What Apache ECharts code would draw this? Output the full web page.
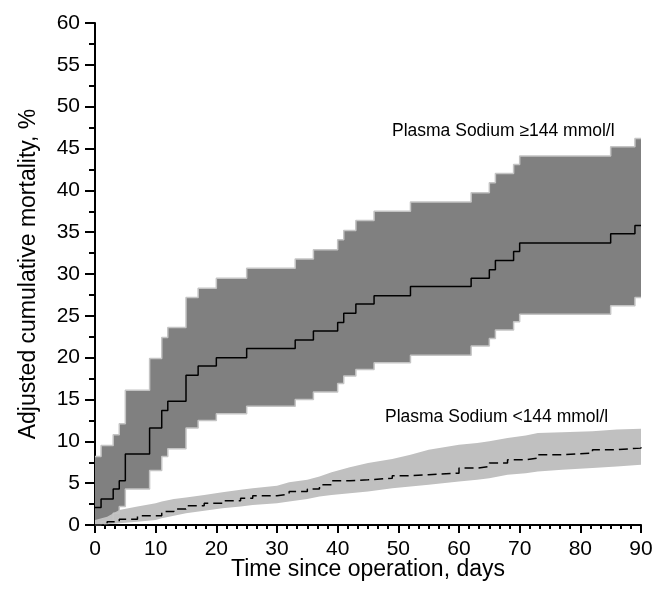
<!DOCTYPE html>
<html>
<head>
<meta charset="utf-8">
<script src="https://cdn.jsdelivr.net/npm/echarts@6/dist/echarts.min.js"></script>
<style>
  html, body { margin: 0; padding: 0; background: #fff; }
  #main { width: 656px; height: 602px; }
</style>
</head>
<body>
<div id="main"></div>
<script>
// high sodium group (>=144 mmol/l), step times in days
var highDays  = [0, 1, 3, 4, 5, 9, 11, 12, 15, 17, 20, 25, 33, 36, 40, 41, 43, 46, 52, 62, 65, 66, 69, 70, 85, 89, 90];
var highMean  = [2.1, 3.1, 4.3, 5.3, 8.5, 11.6, 13.7, 14.8, 17.9, 19.0, 20.0, 21.1, 22.1, 23.2, 24.2, 25.3, 26.4, 27.4, 28.5, 29.5, 30.5, 31.6, 32.7, 33.7, 34.8, 35.8, 35.8];
var highUpper = [8.2, 9.5, 10.8, 12.1, 16.1, 19.9, 22.4, 23.6, 27.2, 28.3, 29.5, 30.7, 31.8, 32.9, 34.1, 35.2, 36.4, 37.5, 38.6, 39.7, 40.9, 42.0, 43.1, 44.1, 45.2, 46.2, 46.2];
var highLower = [0, 0.4, 1.4, 2.2, 4.3, 6.5, 8.2, 9.1, 11.6, 12.5, 13.3, 14.2, 15.0, 15.9, 16.9, 17.8, 18.6, 19.4, 20.3, 21.4, 22.3, 23.3, 24.3, 25.2, 26.2, 27.2, 27.2];

// low sodium group (<144 mmol/l)
var lowDays  = [0, 2, 4, 7, 10, 11, 13, 15, 18, 21, 24, 26, 30, 32, 35, 37, 39, 42, 45, 49, 52, 55, 60, 63, 65, 68, 71, 73, 77, 82, 86, 90];
var lowMean  = [0, 0.4, 0.7, 1.1, 1.1, 1.6, 1.9, 2.3, 2.6, 2.9, 3.2, 3.5, 3.7, 4.0, 4.3, 4.8, 5.3, 5.4, 5.6, 5.9, 6.0, 6.2, 6.8, 7.0, 7.4, 7.8, 8.0, 8.4, 8.6, 9.0, 9.2, 9.4];
var lowUpper = [0.6, 1.0, 1.8, 2.2, 2.6, 2.8, 3.1, 3.3, 3.6, 3.9, 4.2, 4.4, 4.7, 5.1, 5.4, 5.8, 6.3, 6.9, 7.4, 7.9, 8.4, 9.0, 9.6, 9.8, 10.0, 10.4, 10.7, 11.0, 11.1, 11.2, 11.4, 11.5];
var lowLower = [0, 0.1, 0.2, 0.4, 0.6, 0.8, 1.1, 1.4, 1.7, 2.0, 2.2, 2.4, 2.6, 2.8, 3.1, 3.4, 3.6, 3.8, 4.0, 4.4, 4.6, 4.8, 5.2, 5.4, 5.6, 6.0, 6.2, 6.4, 6.6, 6.8, 7.0, 7.2];

var xTicks = [0, 10, 20, 30, 40, 50, 60, 70, 80, 90];
var yTicks = [0, 5, 10, 15, 20, 25, 30, 35, 40, 45, 50, 55, 60];

function pairs(xs, ys) {
    return xs.map(function (x, i) { return [x, ys[i]]; });
}

// points of an edge, optionally as a step (value held until next time)
function edge(xs, ys, step) {
    var out = [];
    for (var i = 0; i < xs.length; i++) {
        out.push([xs[i], ys[i]]);
        if (step && i < xs.length - 1) out.push([xs[i + 1], ys[i]]);
    }
    return out;
}

// confidence band drawn as one polygon through the axes' scales
function band(xs, hi, lo, step, fill) {
    return {
        type: 'custom',
        coordinateSystem: 'cartesian2d',
        silent: true,
        data: [[xs[0], hi[0]]],
        renderItem: function (params, api) {
            var top = edge(xs, hi, step);
            var bot = edge(xs, lo, step).reverse();
            var pts = top.concat(bot).map(function (p) { return api.coord(p); });
            return {
                type: 'polygon',
                shape: { points: pts },
                style: { fill: fill, stroke: null }
            };
        }
    };
}

var font = 'Liberation Sans';
var dom = document.getElementById('main');
var chart = echarts.init(dom);

var option = {
    animation: false,
    grid: { left: 95, right: 15, top: 23, bottom: 77 },
    xAxis: {
        type: 'value',
        min: xTicks[0],
        max: xTicks[xTicks.length - 1],
        interval: 10,
        name: 'Time since operation, days',
        nameLocation: 'middle',
        nameGap: 33,
        nameMoveOverlap: false,
        nameTextStyle: { fontFamily: font, fontSize: 23, color: '#000' },
        axisLine: { lineStyle: { color: '#000', width: 2 } },
        axisTick: { length: 8, lineStyle: { color: '#000', width: 2 } },
        minorTick: { show: true, splitNumber: 6, length: 4, lineStyle: { color: '#000', width: 2 } },
        axisLabel: { fontFamily: font, fontSize: 21, color: '#000', margin: 14 },
        splitLine: { show: false }
    },
    yAxis: {
        type: 'value',
        min: yTicks[0],
        max: yTicks[yTicks.length - 1],
        interval: 5,
        name: 'Adjusted cumulative mortality, %',
        nameLocation: 'middle',
        nameGap: 55,
        nameMoveOverlap: false,
        nameTextStyle: { fontFamily: font, fontSize: 23, color: '#000' },
        axisLine: { show: true, lineStyle: { color: '#000', width: 2 } },
        axisTick: { show: true, length: 10, lineStyle: { color: '#000', width: 2 } },
        minorTick: { show: true, splitNumber: 2, length: 6, lineStyle: { color: '#000', width: 2 } },
        axisLabel: { fontFamily: font, fontSize: 21, color: '#000', margin: 15 },
        splitLine: { show: false }
    },
    series: [
        band(highDays, highUpper, highLower, true, '#808080'),
        {
            type: 'line', step: 'end', symbol: 'none', silent: true,
            data: pairs(highDays, highUpper),
            lineStyle: { color: '#c4c4c4', width: 1.5 }
        },
        {
            type: 'line', step: 'end', symbol: 'none', silent: true,
            data: pairs(highDays, highLower),
            lineStyle: { color: '#c4c4c4', width: 1.5 }
        },
        band(lowDays, lowUpper, lowLower, false, '#c0c0c0'),
        {
            type: 'line', step: 'end', symbol: 'none',
            data: pairs(highDays, highMean),
            lineStyle: { color: '#000', width: 1.5 }
        },
        {
            type: 'line', step: 'end', symbol: 'none',
            data: pairs(lowDays, lowMean),
            lineStyle: { color: '#000', width: 1.5, type: [9, 5] }
        }
    ],
    graphic: [
        {
            type: 'text', left: 392, top: 122, z: 100,
            style: { text: 'Plasma Sodium \u2265144 mmol/l', fontFamily: font, fontSize: 17.5, fill: '#000' }
        },
        {
            type: 'text', left: 385, top: 408, z: 100,
            style: { text: 'Plasma Sodium <144 mmol/l', fontFamily: font, fontSize: 17.5, fill: '#000' }
        }
    ]
};

chart.setOption(option, true);
</script>
</body>
</html>
